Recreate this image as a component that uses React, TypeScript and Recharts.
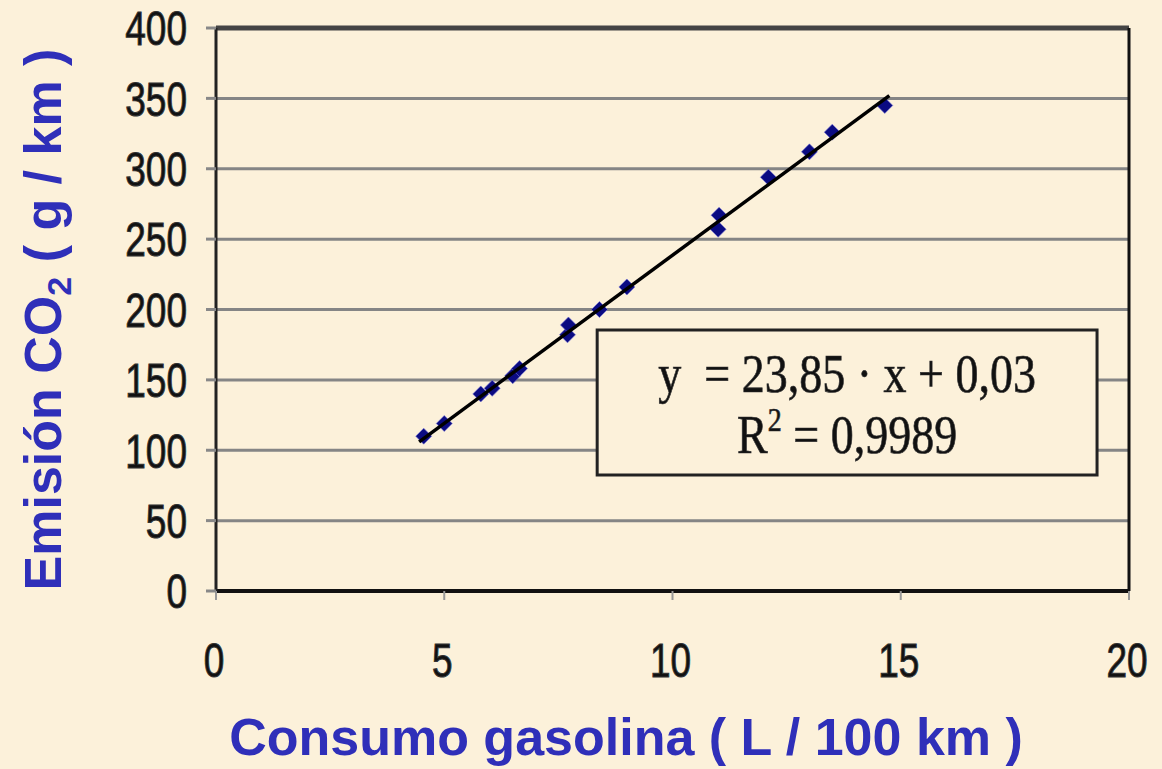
import React from "react"
import {
  ComposedChart,
  Scatter,
  XAxis,
  YAxis,
  CartesianGrid,
  ReferenceLine,
  ReferenceArea,
} from "recharts"

// consumo (L/100 km) y emisión (g/km)
const fuelUse = [4.55, 5.0, 5.8, 6.05, 6.5, 6.65, 7.7, 7.72, 8.4, 9.0, 11.0, 11.02, 12.1, 13.0, 13.5, 14.65]
const co2Emission = [110, 119, 140, 144, 153, 158, 182, 189, 200, 216, 257, 267, 294, 312, 326, 345]

// extremos de la recta de ajuste
const trendX = [4.45, 14.75]
const trendY = [106, 352]

const xTicks = [0, 5, 10, 15, 20]
const yTicks = [0, 50, 100, 150, 200, 250, 300, 350, 400]

const equationText = "y  = 23,85 · x + 0,03"
const r2Value = "0,9989"

const points = fuelUse.map((x, i) => ({ x, y: co2Emission[i] }))
const trend = trendX.map((x, i) => ({ x, y: trendY[i] }))

const BG = "#fcf1da"
const BLUE = "#2f2fb9"

const Diamond = (props: any) => {
  const { cx, cy } = props
  const r = 8
  return (
    <polygon
      points={`${cx},${cy - r} ${cx + r},${cy} ${cx},${cy + r} ${cx - r},${cy}`}
      fill="#0b0b82"
      stroke="#7777d8"
      strokeWidth={1}
      strokeOpacity={0.6}
    />
  )
}

const YTick = (props: any) => {
  const { x, y, payload } = props
  return (
    <text
      transform={`translate(${x},${y}) scale(1,1.3)`}
      textAnchor="end"
      dy="0.36em"
      fontFamily="'Liberation Sans', Arial, sans-serif"
      fontSize={37}
      fill="#111"
      stroke="#333"
      strokeWidth={0.8}
    >
      {payload.value}
    </text>
  )
}

const XTick = (props: any) => {
  const { x, payload } = props
  return (
    <text
      transform={`translate(${x - 2},${677}) scale(1,1.3)`}
      textAnchor="middle"
      fontFamily="'Liberation Sans', Arial, sans-serif"
      fontSize={37}
      fill="#111"
      stroke="#333"
      strokeWidth={0.8}
    >
      {payload.value}
    </text>
  )
}

const YLabel = (props: any) => {
  const { viewBox } = props
  const cx = 42
  const cy = viewBox.y + viewBox.height / 2 + 10
  return (
    <text
      transform={`translate(${cx},${cy}) rotate(-90)`}
      textAnchor="middle"
      dy="0.36em"
      fontFamily="'Liberation Sans', Arial, sans-serif"
      fontWeight="bold"
      fontSize={52}
      fill={BLUE}
    >
      Emisión CO
      <tspan fontSize={34} dy={10}>2</tspan>
      <tspan dy={-10}> ( g / km )</tspan>
    </text>
  )
}

const XLabel = () => (
  <text
    x={626}
    y={755}
    textAnchor="middle"
    fontFamily="'Liberation Sans', Arial, sans-serif"
    fontWeight="bold"
    fontSize={52}
    fill={BLUE}
  >
    Consumo gasolina ( L / 100 km )
  </text>
)

const EquationLabel = (props: any) => {
  const { viewBox } = props
  const cx = viewBox.x + viewBox.width / 2
  return (
    <g fontFamily="'Liberation Serif', 'Times New Roman', serif" fill="#111" stroke="#333" strokeWidth={0.6}>
      <text
        transform={`translate(${cx},${viewBox.y + 62}) scale(1,1.2)`}
        textAnchor="middle"
        fontSize={46}
        style={{ whiteSpace: "pre" }}
      >
        {equationText}
      </text>
      <text
        transform={`translate(${cx},${viewBox.y + 123}) scale(1,1.2)`}
        textAnchor="middle"
        fontSize={46}
      >
        R
        <tspan fontSize={28} dy={-18}>2</tspan>
        <tspan dy={18}>{` = ${r2Value}`}</tspan>
      </text>
    </g>
  )
}

export default function App() {
  return (
    <div style={{ position: "absolute", left: 0, top: 0, width: 1162, height: 769, background: BG }}>
      <ComposedChart
        width={1162}
        height={769}
        margin={{ top: 28, right: 33, bottom: 118, left: 156 }}
      >
        <CartesianGrid vertical={false} stroke="#858585" strokeWidth={3} />
        <XAxis
          type="number"
          dataKey="x"
          domain={[0, 20]}
          ticks={xTicks}
          height={60}
          tickSize={9}
          tickMargin={0}
          tick={<XTick />}
          axisLine={{ stroke: "#111", strokeWidth: 4 }}
          tickLine={{ stroke: "#999", strokeWidth: 2 }}
          label={<XLabel />}
        />
        <YAxis
          type="number"
          dataKey="y"
          domain={[0, 400]}
          ticks={yTicks}
          width={60}
          tickSize={10}
          tickMargin={19}
          tick={<YTick />}
          axisLine={{ stroke: "#222", strokeWidth: 3 }}
          tickLine={{ stroke: "#888", strokeWidth: 3 }}
          label={<YLabel />}
        />
        <ReferenceLine y={400} stroke="#444" strokeWidth={5} />
        <ReferenceLine x={20} stroke="#111" strokeWidth={3} />
        <ReferenceArea
          x1={8.35}
          x2={19.3}
          y1={82.5}
          y2={185.5}
          fill={BG}
          fillOpacity={1}
          stroke="#222"
          strokeWidth={3}
          label={<EquationLabel />}
        />
        <Scatter data={points} shape={<Diamond />} isAnimationActive={false} />
        <Scatter
          data={trend}
          line={{ stroke: "#000", strokeWidth: 3.5 }}
          shape={() => <g />}
          isAnimationActive={false}
        />
      </ComposedChart>
    </div>
  )
}
